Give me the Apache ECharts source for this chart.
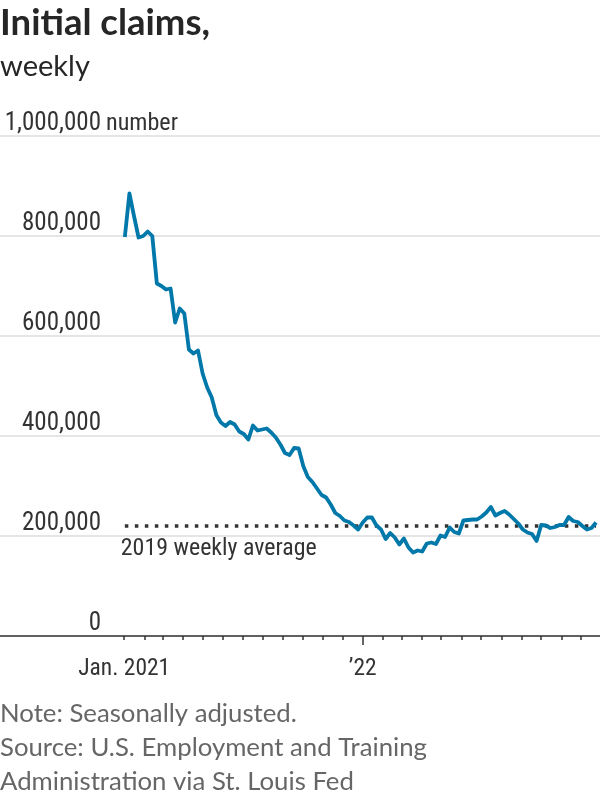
<!DOCTYPE html>
<html>
<head>
<meta charset="utf-8">
<script src="https://cdn.jsdelivr.net/npm/echarts@6/dist/echarts.min.js"></script>
<style>
  html, body { margin: 0; padding: 0; background: #fff; }
  #chart { width: 600px; height: 800px; }
</style>
</head>
<body>
<div id="chart"></div>
<script>
// ---- Data ----
const titleText = 'Initial claims,';
const subtitleText = 'weekly';
const unitLabel = 'number';
const noteLines = ['Note: Seasonally adjusted.', 'Source: U.S. Employment and Training', 'Administration via St. Louis Fed'];

// weekly initial claims, week ending Saturday, starting 2021-01-02
const firstWeekEnding = [2021, 0, 2];
const claims = [
  798000, 885000, 840000, 797000, 800000, 809000, 800000, 705000, 700000, 693000,
  695000, 627000, 655000, 645000, 573000, 565000, 571000, 525000, 497000, 477000,
  442000, 427000, 420000, 428000, 423000, 409000, 404000, 393000, 421000, 411000,
  413000, 415000, 407000, 397000, 383000, 366000, 362000, 376000, 375000, 340000,
  318000, 308000, 295000, 282000, 277000, 263000, 246000, 240000, 231000, 228000,
  221000, 213000, 227000, 237000, 237000, 221000, 213000, 194000, 206000, 197000,
  183000, 195000, 177000, 167000, 171000, 169000, 185000, 187000, 184000, 201000,
  198000, 217000, 208000, 205000, 231000, 232000, 233000, 233000, 239000, 247000,
  258000, 241000, 246000, 250000, 243000, 234000, 225000, 213000, 207000, 204000,
  190000, 222000, 221000, 216000, 218000, 222000, 222000, 238000, 230000, 228000,
  220000, 213000, 216000, 227000
];
const avg2019 = 220000;
const avgLabel = '2019 weekly average';

// axis
const axisStart = new Date(2020, 5, 25).getTime();
const axisEnd = new Date(2022, 11, 30).getTime();
const yMin = 0, yMax = 1000000, yStep = 200000;
const labelYears = [2021, 2022];
const labelTexts = ['Jan. 2021', '\u201922'];
const bigTickYears = [2022];
const tickMonthsFrom = [2021, 0], tickMonthCount = 24;

// ---- Build ----
const dates = claims.map((_, i) => new Date(firstWeekEnding[0], firstWeekEnding[1], firstWeekEnding[2] + 7 * i).getTime());
const seriesData = claims.map((v, i) => [dates[i], v]);
const monthTicks = [];
for (let m = 0; m < tickMonthCount; m++) monthTicks.push(new Date(tickMonthsFrom[0], tickMonthsFrom[1] + m, 1).getTime());
const labelValues = labelYears.map(y => new Date(y, 0, 1).getTime());
const bigTicks = bigTickYears.map(y => new Date(y, 0, 1).getTime());

const narrow = "'Roboto Condensed', 'Open Sans Condensed', 'Noto Sans Condensed', 'DejaVu Sans Condensed', 'Liberation Sans Narrow', Roboto, sans-serif";
const sans = "Lato, 'Open Sans', sans-serif";
const ink = '#333333';

// fit font sizes to the reference text widths
const mctx = document.createElement('canvas').getContext('2d');
function fitSize(text, family, weight, targetW, maxSize) {
  mctx.font = weight + ' 100px ' + family;
  const w = mctx.measureText(text).width;
  return Math.min(maxSize, 100 * targetW / w);
}
const yLabelSize = fitSize('1,000,000', narrow, 'normal', 101, 25);
const xLabelSize = fitSize('Jan. 2021', narrow, 'normal', 92, 25);
const avgSize = fitSize(avgLabel, narrow, 'normal', 196, 25);
const unitSize = fitSize(unitLabel, narrow, 'normal', 72, 25);
const titleSize = fitSize(titleText, sans, 'bold', 210, 38);
const subSize = fitSize(subtitleText, sans, 'normal', 90, 30);
const noteSize = fitSize(noteLines[1], sans, 'normal', 427, 27);

function yearLabel(v) {
  const i = labelYears.indexOf(new Date(v).getFullYear());
  return i >= 0 ? labelTexts[i] : '';
}

const chart = echarts.init(document.getElementById('chart'), null, { renderer: 'canvas' });
chart.setOption({
  animation: false,
  backgroundColor: '#ffffff',
  graphic: [
    { type: 'text', left: 0, top: 25 - titleSize * 0.55,
      style: { text: titleText, font: 'bold ' + titleSize + 'px ' + sans, fill: '#262626' } },
    { type: 'text', left: 0, top: 68 - subSize * 0.55,
      style: { text: subtitleText, font: subSize + 'px ' + sans, fill: '#262626' } }
  ].concat(noteLines.map((t, i) => ({
    type: 'text', left: 0, top: 716 + i * 34 - noteSize * 0.58,
    style: { text: t, font: noteSize + 'px ' + sans, fill: '#666666' }
  }))),
  grid: { left: 0, right: 0, top: 136, height: 500, containLabel: false, outerBoundsMode: 'none' },
  xAxis: [
    {
      type: 'value', min: axisStart, max: axisEnd,
      axisLine: { show: true, lineStyle: { color: ink, width: 1.5 } },
      axisTick: { show: true, customValues: monthTicks, length: 4, lineStyle: { color: ink, width: 1.5 } },
      axisLabel: {
        show: true, customValues: labelValues, margin: 21,
        fontFamily: narrow, fontSize: xLabelSize, color: ink,
        showMinLabel: true, showMaxLabel: true,
        formatter: yearLabel
      },
      splitLine: { show: false }
    },
    {
      type: 'value', min: axisStart, max: axisEnd, position: 'bottom',
      axisLine: { show: false },
      axisTick: { show: true, customValues: bigTicks, length: 9, lineStyle: { color: ink, width: 1.5 } },
      axisLabel: { show: false },
      splitLine: { show: false }
    }
  ],
  yAxis: {
    type: 'value', min: yMin, max: yMax, interval: yStep,
    name: unitLabel, nameLocation: 'end', nameGap: 12, nameMoveOverlap: false,
    nameTextStyle: { fontFamily: narrow, fontSize: unitSize, color: ink, align: 'left', verticalAlign: 'middle', padding: [0, 0, 0, 106] },
    axisLine: { show: false },
    axisTick: { show: false },
    axisLabel: {
      inside: true, align: 'right', margin: 101, verticalAlign: 'bottom',
      fontFamily: narrow, fontSize: yLabelSize, lineHeight: yLabelSize, color: ink,
      formatter: v => v.toLocaleString('en-US')
    },
    splitLine: { show: true, lineStyle: { color: '#dddddd', width: 1.5 } }
  },
  series: [{
    type: 'line', data: seriesData, showSymbol: false, symbol: 'none',
    lineStyle: { color: '#0078aa', width: 3.8, join: 'round' },
    z: 3,
    markLine: {
      silent: true, symbol: ['none', 'none'], z: 2,
      lineStyle: { color: ink, type: [3.5, 6.5], width: 3.5 },
      label: {
        show: true, position: 'insideStartBottom', formatter: avgLabel,
        fontFamily: narrow, fontSize: avgSize, color: ink, distance: [-4, 11]
      },
      data: [[{ coord: [dates[0], avg2019] }, { coord: [dates[dates.length - 1], avg2019] }]]
    }
  }]
});
</script>
</body>
</html>
